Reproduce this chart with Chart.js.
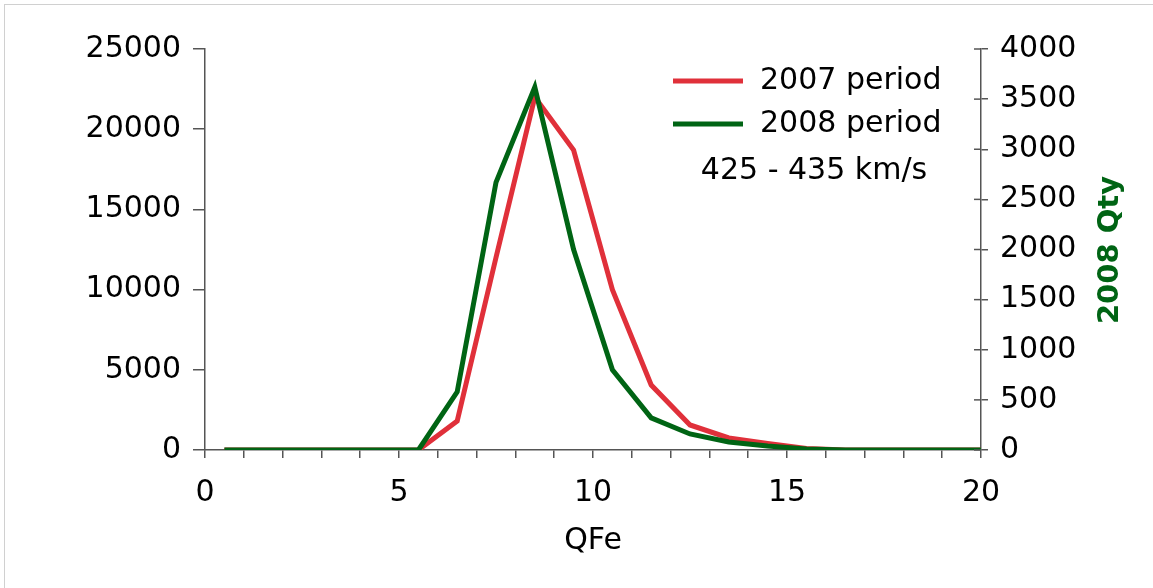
<!DOCTYPE html>
<html>
<head>
<meta charset="utf-8">
<script src="https://cdn.jsdelivr.net/npm/chart.js@4/dist/chart.umd.min.js"></script>
<style>
  body { margin: 0; background: #fff; }
  #frame { position: absolute; left: 4px; top: 4px; width: 1200px; height: 700px; border-top: 1px solid #d0d0d0; border-left: 1px solid #d0d0d0; }
  #wrap { position: absolute; left: 0; top: 0; width: 1153px; height: 588px; }
</style>
</head>
<body>
<div id="frame"></div>
<div id="wrap"><canvas id="chart"></canvas></div>
<script>
// QFe bin centres (last bin runs past the axis end)
const qfe = [0.5, 1.5, 2.5, 3.5, 4.5, 5.5, 6.5, 7.5, 8.5, 9.5, 10.5, 11.5, 12.5, 13.5, 14.5, 15.5, 16.5, 17.5, 18.5, 19.5, 20.5];
// counts
const period2007 = [0, 0, 0, 0, 0, 0, 1800, 12000, 22000, 18700, 10000, 4050, 1560, 750, 400, 100, 0, 0, 0, 0, 0];
const period2008 = [0, 0, 0, 0, 0, 0, 580, 2670, 3620, 2000, 800, 320, 160, 80, 40, 10, 0, 0, 0, 0, 0];
const seriesLabels = ['2007 period', '2008 period'];
const speedNote = '425 - 435 km/s';
const rightTitle = '2008 Qty';

const RED = '#e0303a';
const GREEN = '#006414';
const AXIS = '#555';
const FONT = "'DejaVu Sans', Verdana, sans-serif";
const FS = 30;

const toPoints = (ys) => ys.map((y, i) => ({ x: qfe[i], y: y }));

// legend, note, right axis title and inner half of right ticks
const extras = {
  id: 'extras',
  afterDraw(chart) {
    const ctx = chart.ctx;
    const yr = chart.scales.yR;
    ctx.save();
    // inner ticks on right axis
    ctx.strokeStyle = AXIS;
    ctx.lineWidth = 1.5;
    yr.ticks.forEach((t) => {
      const y = yr.getPixelForValue(t.value);
      ctx.beginPath();
      ctx.moveTo(yr.left - 7, y);
      ctx.lineTo(yr.left, y);
      ctx.stroke();
    });
    // legend
    ctx.font = FS + 'px ' + FONT;
    ctx.textBaseline = 'middle';
    ctx.textAlign = 'left';
    chart.data.datasets.forEach((ds, i) => {
      const y = 81 + i * 43;
      ctx.strokeStyle = ds.borderColor;
      ctx.lineWidth = 5;
      ctx.beginPath();
      ctx.moveTo(673, y);
      ctx.lineTo(743, y);
      ctx.stroke();
      ctx.fillStyle = '#000';
      ctx.fillText(ds.label, 760, y);
    });
    ctx.textAlign = 'center';
    ctx.fillText(speedNote, 814, 171);
    // right axis title, bottom-to-top
    ctx.translate(1110, 250);
    ctx.rotate(-Math.PI / 2);
    ctx.font = 'bold 29px ' + FONT;
    ctx.fillStyle = GREEN;
    ctx.fillText(rightTitle, 0, 0);
    ctx.restore();
  }
};

const tickFont = { family: FONT, size: FS };
const plain = (v) => String(v);

const ctx = document.getElementById('chart').getContext('2d');
new Chart(ctx, {
  type: 'line',
  data: {
    datasets: [
      {
        label: seriesLabels[0],
        data: toPoints(period2007),
        borderColor: RED,
        backgroundColor: RED,
        borderWidth: 5,
        pointRadius: 0,
        tension: 0,
        fill: false,
        yAxisID: 'yL',
        order: 2,
      },
      {
        label: seriesLabels[1],
        data: toPoints(period2008),
        borderColor: GREEN,
        backgroundColor: GREEN,
        borderWidth: 5,
        pointRadius: 0,
        tension: 0,
        fill: false,
        yAxisID: 'yR',
        order: 1,
      },
    ],
  },
  options: {
    responsive: true,
    maintainAspectRatio: false,
    animation: false,
    layout: { padding: { top: 49, left: 0, right: 0, bottom: 0 } },
    plugins: {
      legend: { display: false },
      tooltip: { enabled: false },
    },
    scales: {
      x: {
        type: 'linear',
        min: 0,
        max: 20,
        afterFit: (s) => { s.height = 138; },
        ticks: {
          stepSize: 1,
          autoSkip: false,
          maxRotation: 0,
          padding: 17,
          color: '#000',
          font: tickFont,
          callback: (v) => (v % 5 === 0 ? String(v) : ''),
        },
        grid: { drawOnChartArea: false, color: AXIS, lineWidth: 1.5, tickLength: 8 },
        border: { color: AXIS, width: 1.5 },
        title: {
          display: true,
          text: 'QFe',
          color: '#000',
          font: tickFont,
          padding: { top: 0, bottom: 29 },
        },
      },
      yL: {
        position: 'left',
        min: 0,
        max: 25000,
        afterFit: (s) => { s.width = 205; },
        ticks: { stepSize: 5000, padding: 12, color: '#000', font: tickFont, callback: plain },
        grid: { drawOnChartArea: false, color: AXIS, lineWidth: 1.5, tickLength: 12 },
        border: { color: AXIS, width: 1.5 },
      },
      yR: {
        position: 'right',
        min: 0,
        max: 4000,
        afterFit: (s) => { s.width = 172; },
        ticks: { stepSize: 500, padding: 12, color: '#000', font: tickFont, callback: plain },
        grid: { drawOnChartArea: false, color: AXIS, lineWidth: 1.5, tickLength: 7 },
        border: { color: AXIS, width: 1.5 },
      },
    },
  },
  plugins: [extras],
});
</script>
</body>
</html>
